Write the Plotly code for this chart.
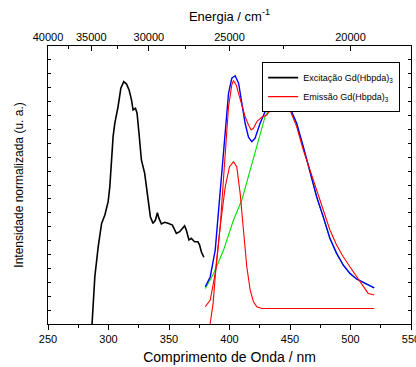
import plotly.graph_objects as go

# Excitation spectrum (black)
exc_nm = [286.0, 286.5, 288.7, 291.5, 294.3, 297.0, 299.7, 301.1, 302.5, 303.8, 305.2, 307.9, 310.2,
          312.6, 314.9, 317.0, 319.0, 320.3, 322.3, 323.6, 325.2, 327.2, 329.9, 331.3, 332.7,
          334.6, 336.8, 338.8, 340.4, 341.7, 343.7, 346.4, 349.2, 352.8, 356.1, 358.8, 362.9,
          364.3, 366.5, 368.4, 371.2, 373.9, 375.3, 376.7, 378.8]
exc_val = [-0.03, 0.0, 0.170, 0.278, 0.362, 0.392, 0.440, 0.494, 0.590, 0.674, 0.722, 0.782, 0.848,
           0.872, 0.863, 0.842, 0.806, 0.770, 0.776, 0.758, 0.686, 0.590, 0.542, 0.494, 0.434,
           0.386, 0.362, 0.374, 0.400, 0.380, 0.360, 0.366, 0.362, 0.356, 0.326, 0.332, 0.353,
           0.338, 0.302, 0.308, 0.296, 0.296, 0.284, 0.260, 0.240]

# Emission spectrum (red, experimental)
em_nm = [380.0, 384.1, 388.2, 392.3, 396.5, 399.2, 401.9, 403.3, 405.5, 408.8, 412.9, 415.7, 417.9,
         419.8, 422.6, 426.7, 430.8, 434.9, 439.1, 443.2, 445.9, 450.0, 455.5, 461.0, 466.5,
         472.0, 477.5, 483.0, 488.5, 494.0, 499.5, 505.0, 510.5, 514.6, 517.4, 519.6]
em_val = [0.062, 0.086, 0.182, 0.350, 0.614, 0.782, 0.860, 0.876, 0.860, 0.806, 0.746, 0.716, 0.698,
          0.704, 0.728, 0.744, 0.752, 0.776, 0.796, 0.803, 0.800, 0.770, 0.710, 0.626, 0.554,
          0.482, 0.410, 0.338, 0.284, 0.242, 0.206, 0.170, 0.134, 0.110, 0.107, 0.104]

# Fitted sum (blue)
fit_nm = [380.0, 384.1, 388.2, 392.3, 396.5, 399.2, 401.9, 404.7, 407.5, 410.2, 412.9, 415.7, 418.4,
          421.1, 425.3, 429.4, 434.9, 440.4, 444.5, 450.0, 455.5, 461.0, 466.5, 472.0, 477.5,
          483.0, 488.5, 494.0, 499.5, 505.0, 510.5, 516.0, 519.6]
fit_val = [0.134, 0.170, 0.266, 0.470, 0.710, 0.830, 0.884, 0.893, 0.866, 0.794, 0.722, 0.672, 0.656,
           0.668, 0.722, 0.764, 0.794, 0.803, 0.800, 0.776, 0.722, 0.638, 0.548, 0.458, 0.386,
           0.308, 0.254, 0.212, 0.182, 0.162, 0.150, 0.138, 0.130]

# Broad component (green)
g1_nm = [380.0, 386.9, 395.1, 403.3, 410.2, 417.1, 422.6, 426.7, 429.4, 434.9, 440.4, 444.5,
         450.0, 455.5, 461.0, 466.5, 472.0, 477.5, 483.0, 488.5, 494.0, 499.5, 505.0, 510.5,
         516.0, 519.6]
g1_val = [0.128, 0.182, 0.266, 0.374, 0.446, 0.554, 0.644, 0.710, 0.746, 0.790, 0.803, 0.800,
          0.776, 0.722, 0.638, 0.548, 0.458, 0.386, 0.308, 0.254, 0.212, 0.182, 0.162, 0.150,
          0.138, 0.130]

# Narrow component (red)
g2_nm = [380.0, 383.0, 386.5, 388.2, 392.3, 396.5, 400.0, 403.3, 406.0, 408.8, 411.5, 414.3,
         417.1, 419.8, 422.6, 426.7, 435.0, 460.0, 490.0, 519.6]
g2_val = [-0.12, -0.02, 0.076, 0.170, 0.350, 0.494, 0.566, 0.584, 0.566, 0.470, 0.326, 0.206,
          0.122, 0.080, 0.062, 0.056, 0.056, 0.056, 0.056, 0.056]

energy_ticks = [40000, 35000, 30000, 25000, 20000]
energy_minor = [37500, 32500, 27500, 22500]

fig = go.Figure()
fig.add_trace(go.Scatter(x=exc_nm, y=exc_val, mode="lines", line=dict(color="black", width=1.6),
                         name="Excitação Gd(Hbpda)<sub>3</sub>"))
fig.add_trace(go.Scatter(x=g1_nm, y=g1_val, mode="lines", line=dict(color="#00e000", width=1.1),
                         showlegend=False))
fig.add_trace(go.Scatter(x=g2_nm, y=g2_val, mode="lines", line=dict(color="red", width=1.1),
                         showlegend=False))
fig.add_trace(go.Scatter(x=fit_nm, y=fit_val, mode="lines", line=dict(color="blue", width=1.4),
                         showlegend=False))
fig.add_trace(go.Scatter(x=em_nm, y=em_val, mode="lines", line=dict(color="red", width=1.1),
                         name="Emissão Gd(Hbpda)<sub>3</sub>"))
# dummy trace to activate top axis
fig.add_trace(go.Scatter(x=[250, 550], y=[None, None], xaxis="x2", showlegend=False,
                         hoverinfo="skip"))

font = "Liberation Sans, Arial, sans-serif"
fig.update_layout(
    width=416, height=367,
    margin=dict(l=48, r=5, t=46, b=43),
    paper_bgcolor="white", plot_bgcolor="white",
    font=dict(family=font, size=11, color="black"),
    showlegend=True,
    legend=dict(x=0.59, y=0.942, xanchor="left", yanchor="top",
                bordercolor="black", borderwidth=1, bgcolor="white",
                font=dict(size=9, family=font), tracegroupgap=0,
                itemwidth=30),
    xaxis=dict(range=[250, 550], dtick=50, tick0=250, ticks="outside", ticklen=5,
               tickwidth=1, tickcolor="black", showline=True, linecolor="black", linewidth=1,
               showgrid=False, zeroline=False, mirror=False, automargin=False,
               ticklabeloverflow="allow",
               minor=dict(dtick=25, tick0=250, ticks="outside", ticklen=3, tickcolor="black"),
               title=dict(text="Comprimento de Onda / nm", font=dict(size=14), standoff=7),
               tickfont=dict(size=11)),
    xaxis2=dict(range=[250, 550], overlaying="x", side="top", anchor="y", automargin=False,
                tickmode="array", tickvals=[1e7 / e for e in energy_ticks],
                ticktext=[str(e) for e in energy_ticks],
                ticks="inside", ticklen=5, tickcolor="black",
                minor=dict(tickvals=[1e7 / e for e in energy_minor], ticks="inside",
                           ticklen=3, tickcolor="black"),
                showline=True, linecolor="black", linewidth=1, showgrid=False, zeroline=False,
                title=dict(text="Energia / cm<sup>-1</sup>", font=dict(size=13), standoff=6),
                tickfont=dict(size=11)),
    yaxis=dict(range=[0, 1], dtick=0.05, ticks="inside", ticklen=3, tickcolor="black",
               showticklabels=False, showline=True, linecolor="black", linewidth=1,
               mirror="ticks", showgrid=False, zeroline=False, automargin=False,
               title=dict(text="Intensidade normalizada (u. a.)", font=dict(size=12), standoff=20)),
)

fig.write_html("out.html", config={"displayModeBar": False},
               post_script="document.body.style.margin='0';document.body.style.overflow='hidden';")
